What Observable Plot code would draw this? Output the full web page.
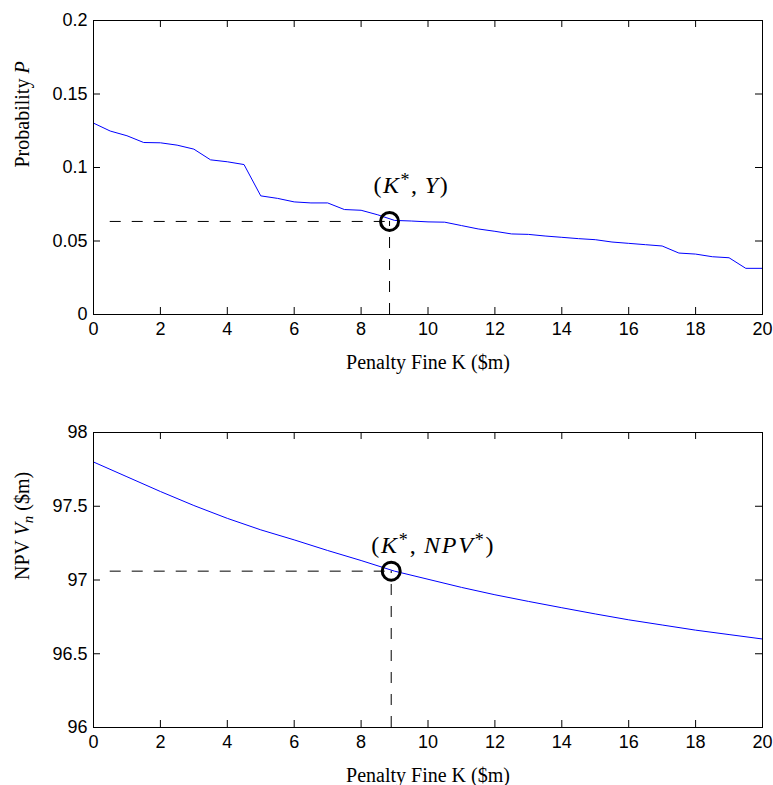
<!DOCTYPE html>
<html>
<head>
<meta charset="utf-8">
<script src="https://cdn.jsdelivr.net/npm/d3@7"></script>
<script src="https://cdn.jsdelivr.net/npm/@observablehq/plot@0.6"></script>
<style>
  body { margin: 0; background: #fff; }
  svg { display: block; }
</style>
</head>
<body>
<script>
// ---- Data ----
const fineK = [0,0.5,1,1.5,2,2.5,3,3.5,4,4.5,5,5.5,6,6.5,7,7.5,8,8.5,9,9.5,10,10.5,11,11.5,12,12.5,13,13.5,14,14.5,15,15.5,16,16.5,17,17.5,18,18.5,19,19.5,20];
const probP = [0.1302,0.1248,0.1216,0.1170,0.1168,0.1152,0.1125,0.1052,0.1039,0.1020,0.0807,0.0790,0.0766,0.0759,0.0759,0.0714,0.0709,0.0678,0.0640,0.0636,0.0630,0.0628,0.0605,0.0582,0.0566,0.0548,0.0545,0.0534,0.0525,0.0516,0.0509,0.0493,0.0484,0.0475,0.0466,0.0418,0.0411,0.0393,0.0386,0.0314,0.0314];

const fineKn = [0,1,2,3,4,5,6,7,8,9,10,11,12,13,14,15,16,17,18,19,20];
const npv = [97.80,97.70,97.60,97.505,97.418,97.34,97.272,97.20,97.132,97.06,97.005,96.95,96.90,96.855,96.812,96.77,96.73,96.695,96.66,96.63,96.60];

const optTop = {k: 8.85, v: 0.0633, label: "(K*,Y)"};
const optBottom = {k: 8.9, v: 97.06, label: "(K*,NPV*)"};

const xTicks = [0,2,4,6,8,10,12,14,16,18,20];
const pTicks = [0,0.05,0.1,0.15,0.2];
const npvTicks = [96,96.5,97,97.5,98];
const xLabel = "Penalty Fine K ($m)";
const yLabelTop = "Probability P";
const yLabelBottom = "NPV Vn ($m)";

const W = 773, mL = 93, mR = 11;
const plotW = W - mL - mR;
const dash = "11,11";

function panel({height, mT, mB, yDomain, yTicks, xs, ys, opt, yLabel, annDx, annDy}) {
  const plotH = height - mT - mB;
  return Plot.plot({
    width: W, height, marginLeft: mL, marginRight: mR, marginTop: mT, marginBottom: mB,
    style: {fontFamily: "'Liberation Sans', Arial, sans-serif", fontSize: "18px", background: "white", color: "black"},
    x: {domain: [0, 20]},
    y: {domain: yDomain},
    marks: [
      Plot.axisX({ticks: xTicks, tickSize: 0, tickPadding: 8, label: null, tickFormat: d => String(d), fontSize: 18}),
      Plot.axisY({ticks: yTicks, tickSize: 0, tickPadding: 6, label: null, tickFormat: d => String(d), fontSize: 18}),
      Plot.tickX(xTicks, {x: d => d, insetTop: plotH - 7, stroke: "black"}),
      Plot.tickX(xTicks, {x: d => d, insetBottom: plotH - 7, stroke: "black"}),
      Plot.tickY(yTicks, {y: d => d, insetRight: plotW - 7, stroke: "black"}),
      Plot.tickY(yTicks, {y: d => d, insetLeft: plotW - 7, stroke: "black"}),
      Plot.line(xs.map((x, i) => ({x, y: ys[i]})), {x: "x", y: "y", stroke: "#0000ff", strokeWidth: 1}),
      Plot.ruleY([opt], {y: "v", x1: () => 0.5, x2: "k", stroke: "black", strokeDasharray: dash, strokeWidth: 1}),
      Plot.ruleX([opt], {x: "k", y1: () => yDomain[0], y2: "v", stroke: "black", strokeDasharray: dash, strokeWidth: 1}),
      Plot.dot([opt], {x: "k", y: "v", r: 9, stroke: "black", strokeWidth: 3, fill: "none"}),
      Plot.text([opt], {x: "k", y: "v", text: "label", textAnchor: "start", lineAnchor: "bottom", dx: annDx, dy: annDy,
        fontFamily: "'Liberation Serif', 'Times New Roman', serif", fontSize: 24}),
      Plot.text([xLabel], {text: d => d, frameAnchor: "bottom", lineAnchor: "bottom", dy: 54,
        fontFamily: "'Liberation Serif', 'Times New Roman', serif", fontSize: 20}),
      Plot.text([yLabel], {text: d => d, frameAnchor: "left", lineAnchor: "bottom", rotate: -90, dx: -65,
        fontFamily: "'Liberation Serif', 'Times New Roman', serif", fontSize: 20}),
      Plot.frame({stroke: "black", strokeWidth: 1})
    ]
  });
}

const topPanel = panel({height: 390, mT: 20, mB: 76, yDomain: [0, 0.2], yTicks: pTicks, xs: fineK, ys: probP,
  opt: optTop, yLabel: yLabelTop, annDx: -16, annDy: -28});
const bottomPanel = panel({height: 395, mT: 42, mB: 58, yDomain: [96, 98], yTicks: npvTicks, xs: fineKn, ys: npv,
  opt: optBottom, yLabel: yLabelBottom, annDx: -20, annDy: -18});
document.body.append(topPanel, bottomPanel);

// Rich-text formatting (italic symbols, super/subscripts) for math labels
function rich(svg, content, parts, spacing) {
  d3.select(svg).selectAll("text").filter(function() { return this.textContent === content; })
    .each(function() {
      const t = d3.select(this);
      t.text(null);
      if (spacing) t.attr("letter-spacing", spacing);
      for (const p of parts) {
        const s = t.append("tspan").text(p.t);
        if (p.i) s.attr("font-style", "italic");
        if (p.sup) s.attr("font-size", "0.75em").attr("dy", "-0.42em");
        if (p.sub) s.attr("font-size", "0.75em").attr("dy", "0.3em");
        if (p.back) s.attr("dy", p.back);
      }
    });
}
rich(topPanel, "(K*,Y)", [{t: "("}, {t: "K", i: 1}, {t: "*", sup: 1}, {t: ",\u2009", back: "0.315em"}, {t: "Y", i: 1}, {t: ")"}], "1.5px");
rich(bottomPanel, "(K*,NPV*)", [{t: "("}, {t: "K", i: 1}, {t: "*", sup: 1}, {t: ",\u2009", back: "0.315em"}, {t: "NPV", i: 1}, {t: "*", sup: 1}, {t: ")", back: "0.315em"}], "1.8px");
rich(topPanel, yLabelTop, [{t: "Probability "}, {t: "P", i: 1}]);
rich(bottomPanel, yLabelBottom, [{t: "NPV "}, {t: "V", i: 1}, {t: "n", i: 1, sub: 1}, {t: " ($m)", back: "-0.225em"}]);
</script>
</body>
</html>
